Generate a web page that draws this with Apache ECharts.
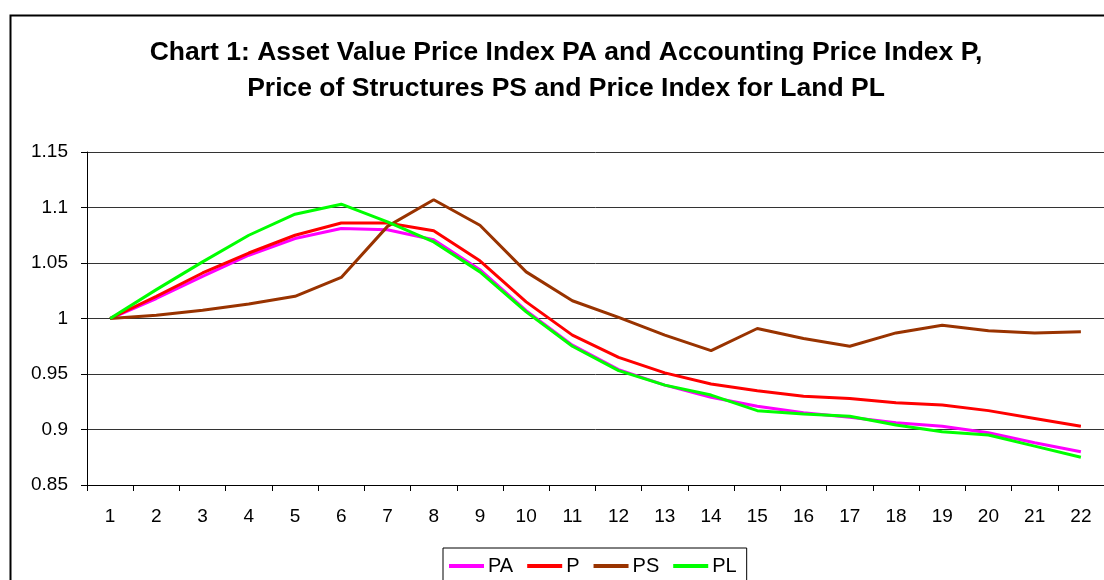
<!DOCTYPE html>
<html>
<head>
<meta charset="utf-8">
<script src="https://cdn.jsdelivr.net/npm/echarts@6/dist/echarts.min.js"></script>
<style>html,body{margin:0;padding:0;background:#fff}#c{width:1104px;height:580px}</style>
</head>
<body>
<div id="c"></div>
<script>
const categories = ['1','2','3','4','5','6','7','8','9','10','11','12','13','14','15','16','17','18','19','20','21','22'];
const PA = [1.000,1.018,1.038,1.057,1.072,1.081,1.080,1.071,1.044,1.007,0.976,0.954,0.940,0.929,0.921,0.915,0.911,0.906,0.903,0.897,0.888,0.880];
const P  = [1.000,1.020,1.041,1.059,1.075,1.086,1.086,1.079,1.052,1.015,0.985,0.965,0.951,0.941,0.935,0.930,0.928,0.924,0.922,0.917,0.910,0.903];
const PS = [1.000,1.003,1.0075,1.013,1.020,1.037,1.083,1.107,1.084,1.042,1.016,1.001,0.985,0.971,0.991,0.982,0.975,0.987,0.994,0.989,0.987,0.988];
const PL = [1.000,1.026,1.051,1.075,1.094,1.103,1.087,1.069,1.042,1.006,0.975,0.953,0.940,0.931,0.917,0.914,0.912,0.904,0.898,0.895,0.885,0.875];
const yTicks = {min:0.85, max:1.15, interval:0.05};

const font = 'Liberation Sans, Arial, sans-serif';
const chart = echarts.init(document.getElementById('c'), null, {renderer:'canvas'});
function mk(name, data, color){
  return {name, type:'line', data, symbol:'none', smooth:false,
    lineStyle:{color, width:3}, itemStyle:{color}, emphasis:{disabled:true}};
}
chart.setOption({
  animation:false,
  backgroundColor:'#fff',
  title:{
    text:'Chart 1: Asset Value Price Index PA and Accounting Price Index P,\nPrice of Structures PS and Price Index for Land PL',
    left:566, top:35, textAlign:'center', padding:0,
    textStyle:{fontFamily:font, fontSize:26.5, fontWeight:'bold', color:'#000', lineHeight:36}
  },
  graphic:[{type:'rect', shape:{x:10.5,y:15.5,width:1200,height:700}, style:{fill:'none', stroke:'#000', lineWidth:2}, silent:true}],
  grid:{left:87, right:0, top:152, bottom:95, containLabel:false},
  legend:{
    data:['PA','P','PS','PL'], left:443, top:548, orient:'horizontal',
    itemWidth:35, itemHeight:4, itemGap:14, icon:'rect',
    borderColor:'#000', borderWidth:1, padding:[8,10,12,6],
    textStyle:{fontFamily:font, fontSize:20, color:'#000', padding:[0,0,0,-1]}
  },
  xAxis:{
    type:'category', data:categories, boundaryGap:true,
    axisLine:{lineStyle:{color:'#000', width:1}},
    axisTick:{show:true, interval:0, length:6, lineStyle:{color:'#000'}},
    axisLabel:{fontFamily:font, fontSize:19, color:'#000', margin:22, interval:0}
  },
  yAxis:{
    type:'value', min:yTicks.min, max:yTicks.max, interval:yTicks.interval,
    axisLine:{show:true, lineStyle:{color:'#000', width:1}},
    axisTick:{show:true, length:6, lineStyle:{color:'#000'}},
    axisLabel:{fontFamily:font, fontSize:19, color:'#000', margin:19,
      formatter:v=>String(+v.toFixed(2))},
    splitLine:{show:true, lineStyle:{color:'#333', width:1}}
  },
  series:[mk('PA',PA,'#FF00FF'), mk('P',P,'#FF0000'), mk('PS',PS,'#993300'), mk('PL',PL,'#00FF00')]
});
</script>
</body>
</html>
